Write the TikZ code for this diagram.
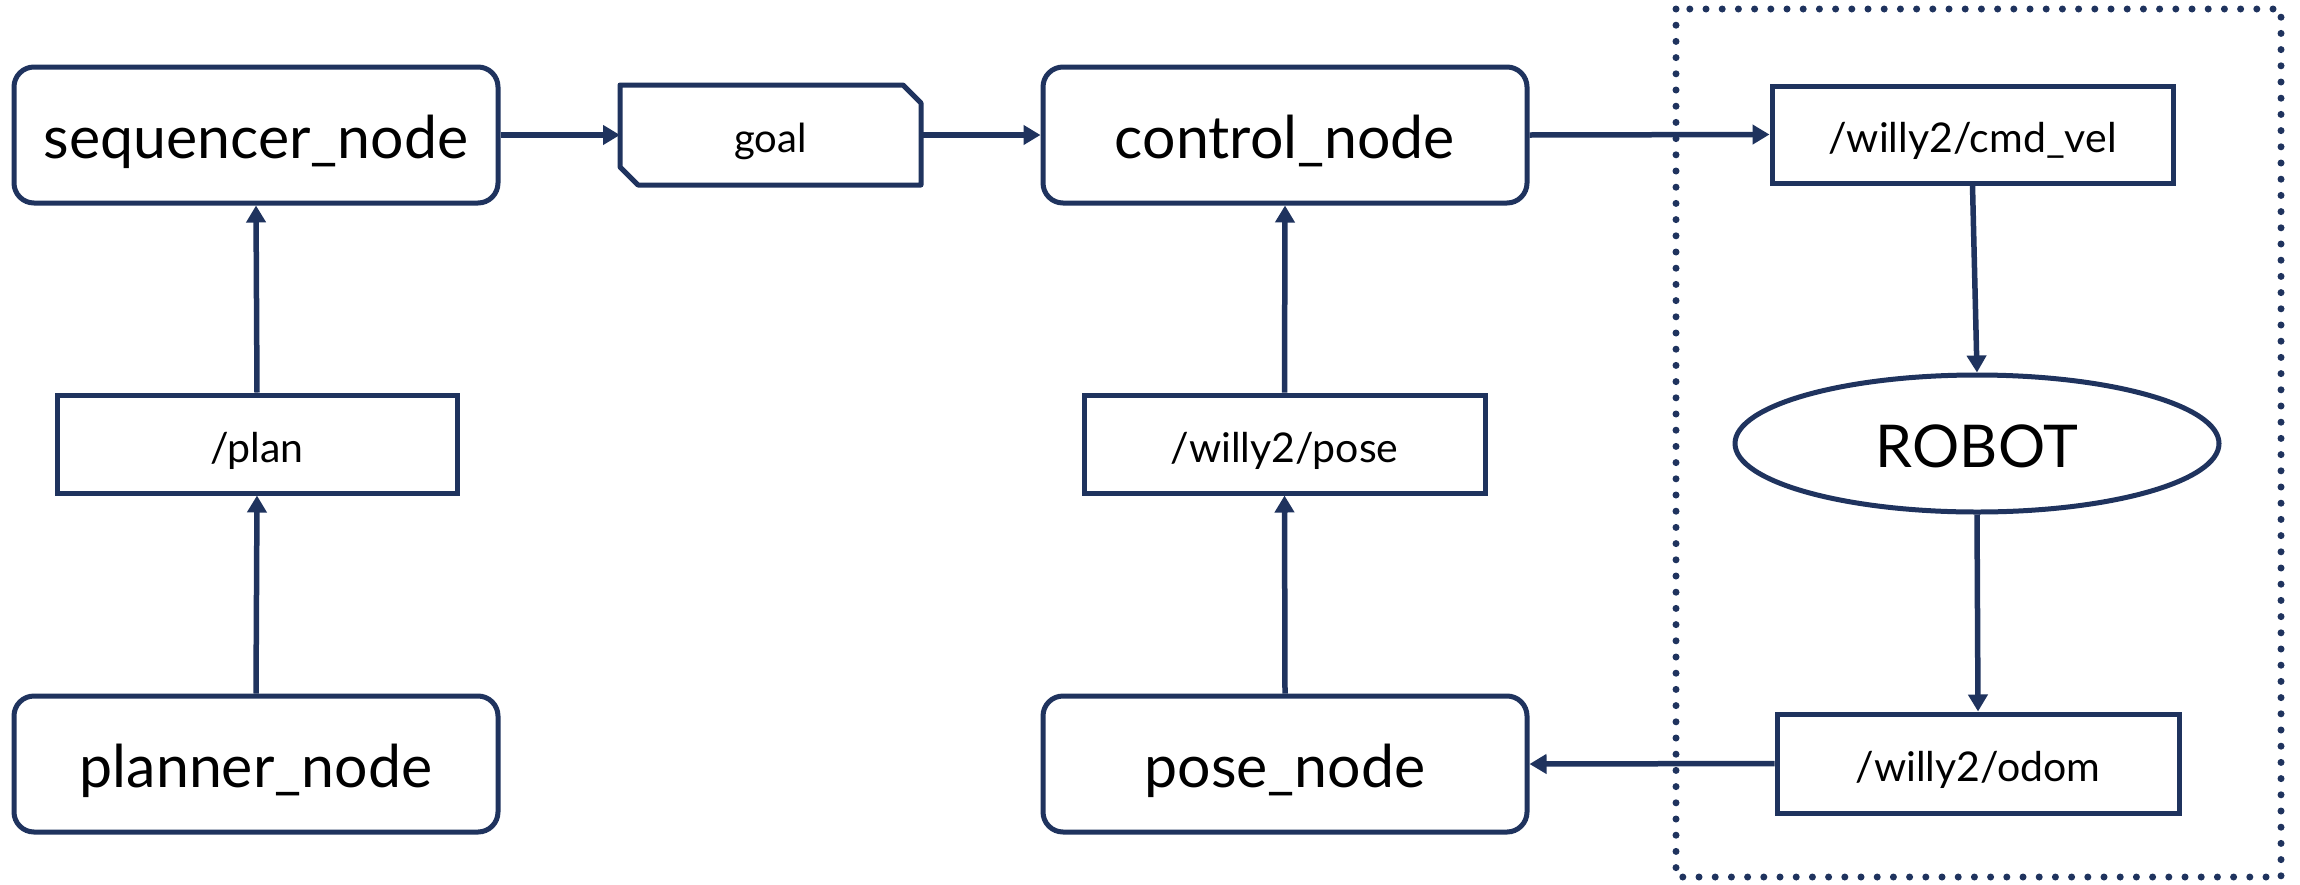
\documentclass[tikz,border=0pt]{standalone}
\usepackage{fontspec}
\setmainfont{Lato}
\usetikzlibrary{arrows.meta,shapes.geometric}
\definecolor{navy}{RGB}{31,51,94}
\begin{document}
\begin{tikzpicture}[x=1pt,y=-1pt,
  big/.style={font=\fontsize{59}{70}\selectfont,text height=46pt,text depth=0pt},
  small/.style={font=\fontsize{41}{48}\selectfont,text height=36pt,text depth=0pt},
  procbox/.style={draw=navy,line width=5pt,rounded corners=20pt,minimum width=484pt,minimum height=136pt,inner sep=0pt,fill=white,big},
  topicbox/.style={draw=navy,line width=5pt,minimum width=401pt,minimum height=98pt,inner sep=0pt,fill=white,small},
  conn/.style={draw=navy,line width=5.5pt,-{Triangle[length=17pt,width=19pt]}},
  dotframe/.style={draw=navy,line width=7pt,line cap=round,dash pattern=on 0pt off 16.2pt}
]
\useasboundingbox (0,0) rectangle (2300,884);
\fill[white] (0,0) rectangle (2300,884);

% dotted frame
\draw[dotframe] (1676,9) rectangle (2281,877);

% nodes
\node[procbox] (seq) at (256,135) {sequencer\_node};
\node[topicbox,minimum width=400pt] (plan) at (257,444) {/plan};
\node[procbox] (planner) at (256,764) {planner\_node};

\node[inner sep=0pt,outer sep=0pt,minimum width=301pt,minimum height=100pt] (goal) at (770.5,135) {};
\draw[navy,line width=5pt,line join=round]
  (goal.north west) -- ([xshift=-18pt]goal.north east) -- ([yshift=-18pt]goal.north east)
  -- (goal.south east) -- ([xshift=18pt]goal.south west) -- ([yshift=18pt]goal.south west) -- cycle;
\node[font=\fontsize{40}{48}\selectfont,text height=34pt,text depth=0pt,inner sep=0pt] (goallabel) at (goal.center) {goal};

\node[procbox] (control) at (1285,135) {control\_node};
\node[topicbox] (pose) at (1284.5,444) {/willy2/pose};
\node[procbox] (posenode) at (1285,764) {pose\_node};

\node[topicbox,minimum height=97pt] (cmd) at (1972.5,134.5) {/willy2/cmd\_vel};
\node[draw=navy,line width=5pt,ellipse,minimum width=484pt,minimum height=137pt,inner sep=0pt,fill=white,big,text height=47pt] (robot) at (1977,443.5) {ROBOT};
\node[topicbox,minimum width=402pt,minimum height=99pt] (odom) at (1978,763.5) {/willy2/odom};

% connectors
\draw[conn] (seq.east) -- (goal.west);
\draw[conn] (goal.east) -- (control.west);
\draw[conn] (control.east) -- (cmd.west);
\draw[conn] (plan.north) -- (seq.south);
\draw[conn] (planner.north) -- (plan.south);
\draw[conn] (pose.north) -- (control.south);
\draw[conn] (posenode.north) -- (pose.south);
\draw[conn] (cmd.south) -- (robot.north);
\draw[conn] (robot.south) -- (odom.north);
\draw[conn] (odom.west) -- (posenode.east);
\end{tikzpicture}
\end{document}
